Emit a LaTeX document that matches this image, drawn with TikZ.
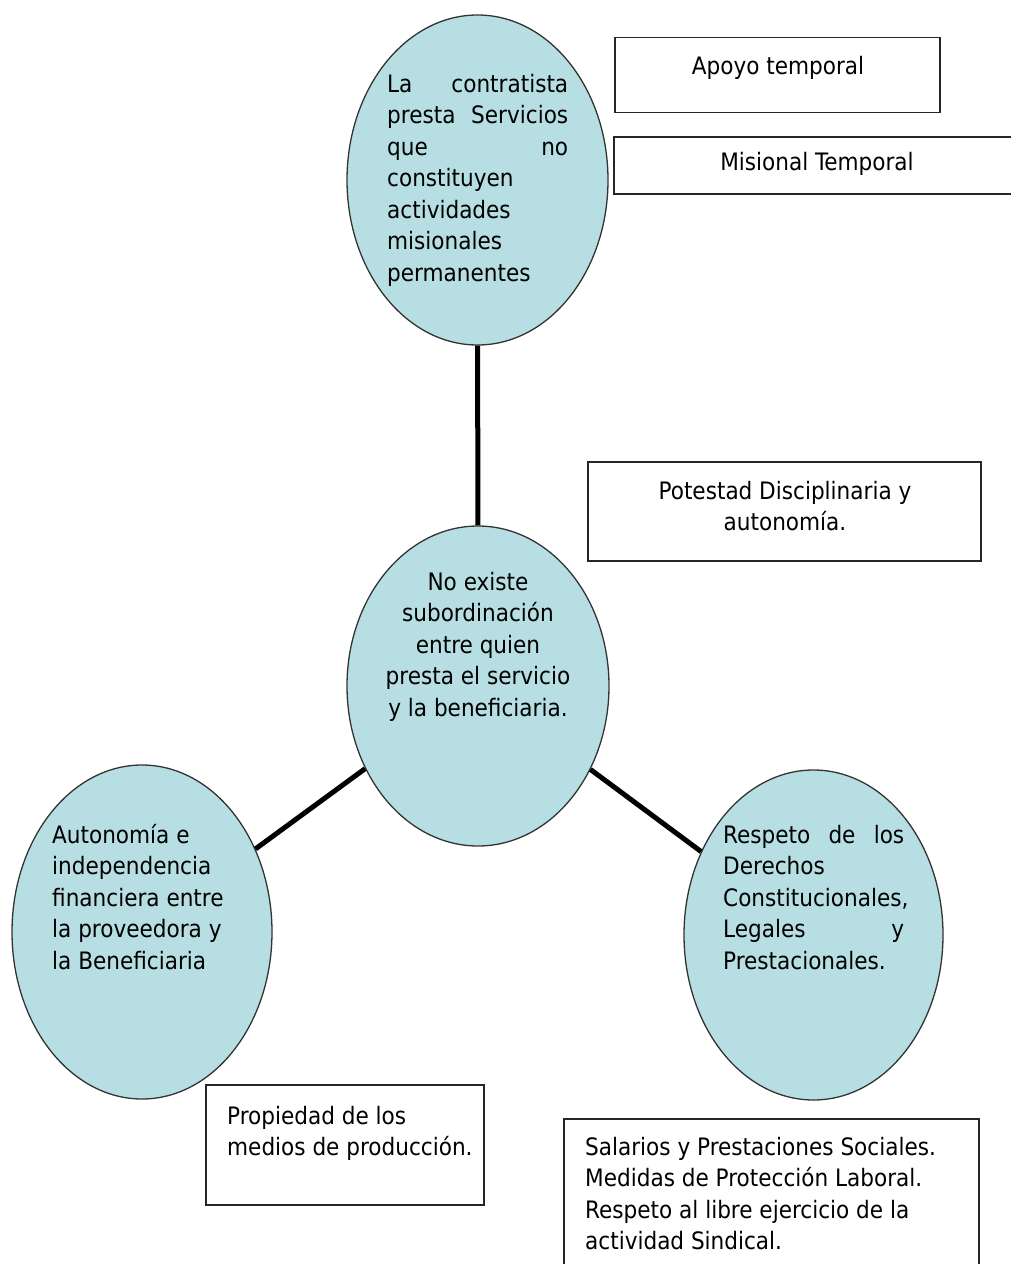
\documentclass[tikz,border=0pt]{standalone}
\usepackage{fontspec}
\setmainfont{DejaVu Sans Condensed}
\usetikzlibrary{shapes.geometric}
\definecolor{ellfill}{HTML}{B7DFE3}
\definecolor{ellline}{HTML}{333333}
\newcommand\jline[1]{\leavevmode\hbox to 181pt{#1}}
\tikzset{
  bubble/.style={ellipse, draw=ellline, line width=1.3pt, fill=ellfill, inner sep=0pt},
  infobox/.style={rectangle, draw=black!85, line width=1.3pt, fill=white, inner sep=0pt},
  txt/.style={inner sep=0pt, font=\fontsize{24}{31.5}\selectfont},
  link/.style={line width=5pt, black}
}
\begin{document}
\begin{tikzpicture}[x=1pt,y=-1pt]
\useasboundingbox (0,0) rectangle (1010,1264);
\fill[white] (0,0) rectangle (1010,1264);
% boxes
\node[infobox, minimum width=325pt, minimum height=75pt] (b1) at (777.5,75) {};
\node[infobox, minimum width=440pt, minimum height=57pt] (b2) at (834,165.5) {};
\node[infobox, minimum width=393pt, minimum height=99pt] (b3) at (784.5,511.5) {};
\node[infobox, minimum width=278pt, minimum height=120pt] (b4) at (345,1145) {};
\node[infobox, minimum width=415pt, minimum height=200pt] (b5) at (771.5,1219) {};
% ellipses
\node[bubble, minimum width=261pt, minimum height=330pt] (e1) at (477.5,180) {};
\node[bubble, minimum width=262pt, minimum height=320pt] (e2) at (478,686) {};
\node[bubble, minimum width=260pt, minimum height=334pt] (e3) at (142,932) {};
\node[bubble, minimum width=259pt, minimum height=330pt] (e4) at (813.5,935) {};
% connectors
\draw[link] (e1) -- (e2);
\draw[link] (e2) -- (e3);
\draw[link] (e2) -- (e4);
% texts
\node[txt, anchor=north west, text width=181pt, align=left] (t1) at (387,74)
  {\jline{La\hfill contratista}\\\jline{presta\hfill Servicios}\\\jline{que\hfill no}\\constituyen\\actividades\\misionales\\permanentes};
\node[txt, anchor=north, align=center] (t2) at (478,572)
  {No existe\\subordinación\\entre quien\\presta el servicio\\y la beneficiaria.};
\node[txt, anchor=north west, align=left] (t3) at (52,824)
  {Autonomía e\\independencia\\financiera entre\\la proveedora y\\la Beneficiaria};
\node[txt, anchor=north west, text width=181pt, align=left] (t4) at (723,825)
  {\jline{Respeto\hfill de\hfill los}\\Derechos\\Constitucionales,\\\jline{Legales\hfill y}\\Prestacionales.};
\node[txt, anchor=north] (t5) at (778,56) {Apoyo temporal};
\node[txt, anchor=north] (t6) at (817,152) {Misional Temporal};
\node[txt, anchor=north, align=center] (t7) at (785,481) {Potestad Disciplinaria y\\autonomía.};
\node[txt, anchor=north west, align=left] (t8) at (227,1106) {Propiedad de los\\medios de producción.};
\node[txt, anchor=north west, align=left] (t9) at (585,1137)
  {Salarios y Prestaciones Sociales.\\Medidas de Protección Laboral.\\Respeto al libre ejercicio de la\\actividad Sindical.};
\end{tikzpicture}
\end{document}
